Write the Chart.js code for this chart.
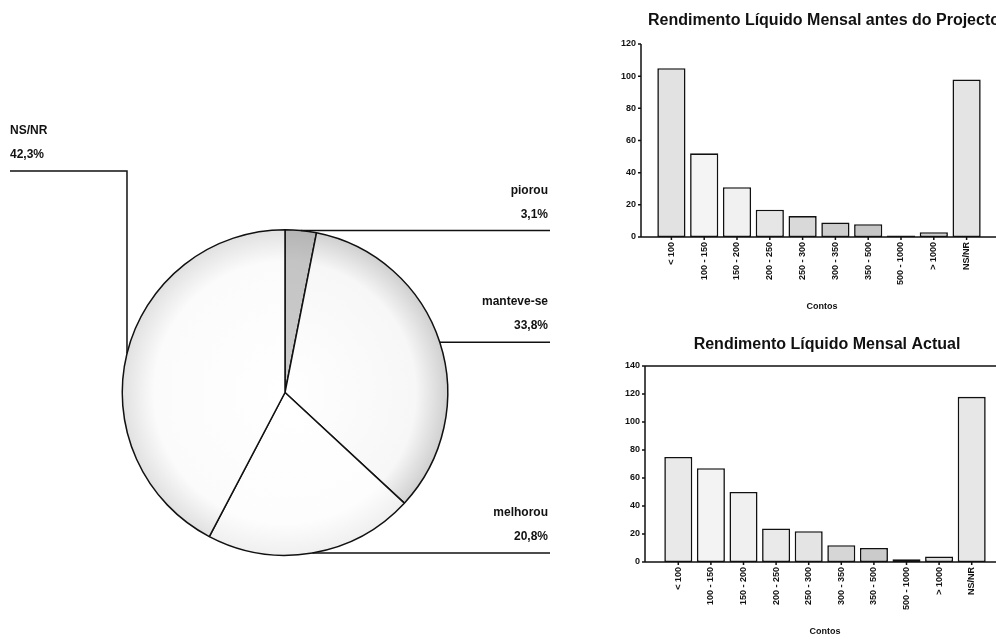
<!DOCTYPE html>
<html>
<head>
<meta charset="utf-8">
<script src="https://cdn.jsdelivr.net/npm/chart.js@4/dist/chart.umd.min.js"></script>
<style>
  html, body { margin: 0; padding: 0; background: #fff; }
  #page { position: relative; width: 996px; height: 639px; overflow: hidden; background: #fff; }
  canvas { position: absolute; }
  #pie { left: 0; top: 0; }
  #antes { left: 590px; top: 0; }
  #actual { left: 590px; top: 320px; }
</style>
</head>
<body>
<div id="page">
  <canvas id="pie" width="590" height="639"></canvas>
  <canvas id="antes" width="406" height="320"></canvas>
  <canvas id="actual" width="406" height="319"></canvas>
</div>
<script>
// Evolução do rendimento (percentagens)
const pieLabels = ['piorou', 'manteve-se', 'melhorou', 'NS/NR'];
const pieValues = [3.1, 33.8, 20.8, 42.3];

// Escalões de rendimento líquido mensal (contos)
const incomeBands = ['< 100', '100 - 150', '150 - 200', '200 - 250', '250 - 300',
                     '300 - 350', '350 - 500', '500 - 1000', '> 1000', 'NS/NR'];
const countsBefore = [105, 52, 31, 17, 13, 9, 8, 1, 3, 98];
const countsNow    = [75, 67, 50, 24, 22, 12, 10, 2, 4, 118];

const beforeTicks = { max: 120, step: 20 };
const nowTicks    = { max: 140, step: 20 };

const FONT = '"Liberation Sans", Arial, sans-serif';
const INK = '#111';

Chart.defaults.font.family = FONT;
Chart.defaults.color = INK;
Chart.defaults.animation = false;

/* ---------- pie with leader lines ---------- */
const pieFills = [
  ['#cdcdcd', '#c4c4c4', '#b4b4b4'],
  ['#ffffff', '#f7f7f7', '#cfcfcf'],
  ['#ffffff', '#fdfdfd', '#efefef'],
  ['#ffffff', '#fbfbfb', '#e0e0e0']
];

function pieFill(context) {
  const chart = context.chart;
  const a = chart.chartArea;
  if (!a) return '#ffffff';
  const cx = (a.left + a.right) / 2, cy = (a.top + a.bottom) / 2;
  const r = Math.min(a.right - a.left, a.bottom - a.top) / 2;
  const stops = pieFills[context.dataIndex];
  const g = chart.ctx.createRadialGradient(cx, cy, 0, cx, cy, r);
  g.addColorStop(0, stops[0]);
  g.addColorStop(0.8, stops[1]);
  g.addColorStop(1, stops[2]);
  return g;
}

const leaderPlugin = {
  id: 'leaders',
  afterDraw(chart, args, o) {
    const ctx = chart.ctx;
    const meta = chart.getDatasetMeta(0);
    const values = chart.data.datasets[0].data;
    ctx.save();
    ctx.strokeStyle = INK;
    ctx.lineWidth = 1.5;
    ctx.fillStyle = INK;
    ctx.font = 'bold 12px ' + FONT;
    ctx.textBaseline = 'alphabetic';
    meta.data.forEach((arc, i) => {
      const mid = (arc.startAngle + arc.endAngle) / 2;
      const px = arc.x + Math.cos(mid) * arc.outerRadius;
      const py = arc.y + Math.sin(mid) * arc.outerRadius;
      const name = chart.data.labels[i];
      const pct = values[i].toFixed(1).replace('.', ',') + '%';
      let lineY, textX;
      ctx.beginPath();
      if (px >= arc.x) {
        lineY = py;
        ctx.moveTo(px, py);
        ctx.lineTo(o.rightEdge, py);
        ctx.textAlign = 'right';
        textX = o.rightEdge - 2;
      } else {
        lineY = o.leftElbowY;
        ctx.moveTo(px, py);
        ctx.lineTo(px, lineY);
        ctx.lineTo(o.leftEdge, lineY);
        ctx.textAlign = 'left';
        textX = o.leftEdge;
      }
      ctx.stroke();
      ctx.fillText(name, textX, lineY - 37);
      ctx.fillText(pct, textX, lineY - 13);
    });
    ctx.restore();
  }
};

new Chart(document.getElementById('pie'), {
  type: 'pie',
  data: {
    labels: pieLabels,
    datasets: [{
      data: pieValues,
      backgroundColor: pieFill,
      borderColor: INK,
      borderWidth: 1.5,
      hoverOffset: 0
    }]
  },
  options: {
    responsive: false,
    layout: { padding: { left: 121, top: 229, right: 141, bottom: 83 } },
    plugins: {
      legend: { display: false },
      tooltip: { enabled: false },
      leaders: { rightEdge: 550, leftEdge: 10, leftElbowY: 171 }
    }
  },
  plugins: [leaderPlugin]
});

/* ---------- histogram frames ---------- */
const framePlugin = {
  id: 'frame',
  afterDatasetsDraw(chart, args, o) {
    const { ctx, scales: { x, y } } = chart;
    const y0 = y.getPixelForValue(0);
    const yTop = y.getPixelForValue(y.max);
    ctx.save();
    ctx.strokeStyle = INK;
    ctx.lineWidth = 1.5;
    ctx.beginPath();
    ctx.moveTo(o.axisX, yTop);
    ctx.lineTo(o.axisX, y0);
    ctx.lineTo(chart.width, y0);
    if (o.topBorder) {
      ctx.moveTo(o.axisX, yTop);
      ctx.lineTo(chart.width, yTop);
    }
    y.ticks.forEach(t => {
      const py = y.getPixelForValue(t.value);
      ctx.moveTo(o.axisX - 3, py);
      ctx.lineTo(o.axisX, py);
    });
    x.ticks.forEach((t, i) => {
      const px = x.getPixelForTick(i);
      ctx.moveTo(px, y0);
      ctx.lineTo(px, y0 + 3);
    });
    ctx.stroke();

    ctx.fillStyle = INK;
    ctx.textAlign = 'center';
    ctx.textBaseline = 'alphabetic';
    ctx.font = 'bold 16px ' + FONT;
    ctx.fillText(o.title, o.titleX, o.titleY);
    ctx.font = 'bold 9px ' + FONT;
    ctx.fillText(o.xTitle, o.xTitleX, o.xTitleY);
    ctx.restore();
  }
};

function histogram(id, values, fills, ticks, frame, area, labelPad) {
  return new Chart(document.getElementById(id), {
    type: 'bar',
    data: {
      labels: incomeBands,
      datasets: [{
        data: values,
        backgroundColor: fills,
        borderColor: INK,
        borderWidth: 1.6,
        borderSkipped: false,
        categoryPercentage: 1,
        barPercentage: 0.86
      }]
    },
    options: {
      responsive: false,
      layout: { padding: { left: 0, top: area.top, right: area.right, bottom: 0 } },
      scales: {
        x: {
          grid: { display: false, drawTicks: false },
          border: { display: false },
          ticks: {
            autoSkip: false, minRotation: 90, maxRotation: 90, padding: 5,
            font: { size: 9, weight: 'bold' }, color: INK
          },
          afterFit(scale) { scale.height = area.xHeight; }
        },
        y: {
          min: 0, max: ticks.max,
          grid: { display: false, drawTicks: false },
          border: { display: false },
          ticks: { stepSize: ticks.step, padding: labelPad, font: { size: 9, weight: 'bold' }, color: INK },
          afterFit(scale) { scale.width = area.left; }
        }
      },
      plugins: {
        legend: { display: false },
        tooltip: { enabled: false },
        frame: frame
      }
    },
    plugins: [framePlugin]
  });
}

histogram('antes', countsBefore,
  ['#e2e2e2', '#f4f4f4', '#f1f1f1', '#e6e6e6', '#d9d9d9', '#cdcdcd', '#c6c6c6', '#d6d6d6', '#d0d0d0', '#e4e4e4'],
  beforeTicks,
  { axisX: 51, topBorder: false,
    title: 'Rendimento Líquido Mensal antes do Projecto', titleX: 234, titleY: 25,
    xTitle: 'Contos', xTitleX: 232, xTitleY: 309 },
  { top: 44, right: 13, left: 65, xHeight: 83 }, 19);

histogram('actual', countsNow,
  ['#e9e9e9', '#f3f3f3', '#f0f0f0', '#eaeaea', '#e4e4e4', '#d6d6d6', '#cbcbcb', '#d2d2d2', '#dcdcdc', '#e7e7e7'],
  nowTicks,
  { axisX: 55, topBorder: true,
    title: 'Rendimento Líquido Mensal Actual', titleX: 237, titleY: 29,
    xTitle: 'Contos', xTitleX: 235, xTitleY: 314 },
  { top: 46, right: 8, left: 72, xHeight: 77 }, 22);
</script>
</body>
</html>
